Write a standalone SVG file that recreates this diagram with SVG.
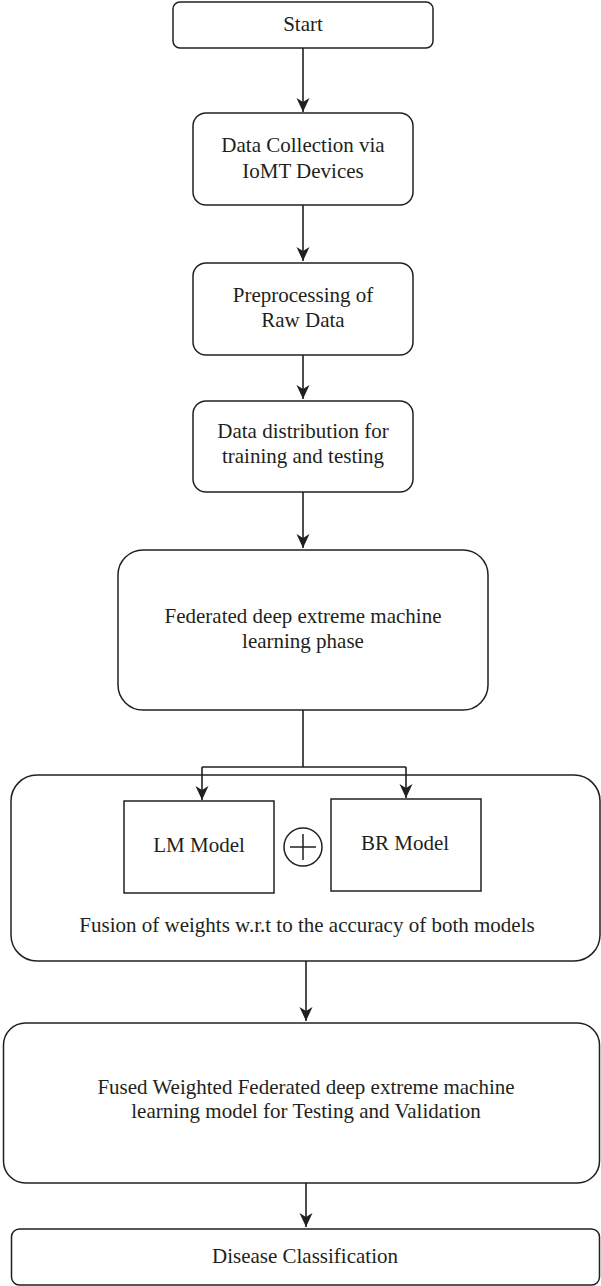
<svg xmlns="http://www.w3.org/2000/svg" width="601" height="1286" viewBox="0 0 601 1286">
<defs>
<style>
.box{fill:#fff;stroke:#231f20;stroke-width:1.5}
.t{font-family:"Liberation Serif","Times New Roman",serif;font-size:21px;fill:#231f20;text-anchor:middle}
.c{fill:none;stroke:#231f20;stroke-width:1.6}
</style>
<marker id="arr" markerUnits="userSpaceOnUse" markerWidth="16" markerHeight="16" viewBox="-15 -8 16 16" refX="0" refY="0" orient="auto">
<path d="M0,0 L-14,-6.5 L-10,0 L-14,6.5 Z" fill="#231f20"/>
</marker>
</defs>
<rect width="601" height="1286" fill="#fff"/>
<g id="start">
<rect class="box" x="173" y="2" width="260" height="46" rx="7"/>
<text class="t" x="303" y="31">Start</text>
</g>
<g id="collection">
<rect class="box" x="193" y="113" width="220" height="92" rx="13"/>
<text class="t" x="303" y="152">Data Collection via</text>
<text class="t" x="303" y="178">IoMT Devices</text>
</g>
<g id="preprocessing">
<rect class="box" x="193" y="263" width="220" height="92" rx="13"/>
<text class="t" x="303" y="302">Preprocessing of</text>
<text class="t" x="303" y="327">Raw Data</text>
</g>
<g id="distribution">
<rect class="box" x="193" y="401" width="220" height="91" rx="13"/>
<text class="t" x="303" y="438">Data distribution for</text>
<text class="t" x="303" y="463">training and testing</text>
</g>
<g id="federated">
<rect class="box" x="118" y="550" width="370" height="160" rx="25"/>
<text class="t" x="303" y="623">Federated deep extreme machine</text>
<text class="t" x="303" y="648">learning phase</text>
</g>
<g id="fusion">
<rect class="box" x="11" y="775" width="589" height="186" rx="26"/>
<text class="t" x="307" y="932">Fusion of weights w.r.t to the accuracy of both models</text>
</g>
<g id="lm">
<rect class="box" x="124" y="801" width="150" height="92"/>
<text class="t" x="199" y="852">LM Model</text>
</g>
<g id="plus">
<circle cx="303" cy="847" r="19" fill="#fff" stroke="#231f20" stroke-width="1.5"/>
<line x1="290" y1="847" x2="316" y2="847" stroke="#231f20" stroke-width="1.5"/>
<line x1="303" y1="834" x2="303" y2="860" stroke="#231f20" stroke-width="1.5"/>
</g>
<g id="br">
<rect class="box" x="331" y="799" width="150" height="92"/>
<text class="t" x="405" y="850">BR Model</text>
</g>
<g id="fused">
<rect class="box" x="3.5" y="1023" width="596" height="160" rx="22"/>
<text class="t" x="306" y="1094">Fused Weighted Federated deep extreme machine</text>
<text class="t" x="306" y="1118">learning model for Testing and Validation</text>
</g>
<g id="disease">
<rect class="box" x="11.5" y="1229" width="588" height="56" rx="8"/>
<text class="t" x="305" y="1263">Disease Classification</text>
</g>
<g id="connectors">
<line class="c" x1="303" y1="48" x2="303" y2="112" marker-end="url(#arr)"/>
<line class="c" x1="303" y1="205" x2="303" y2="261" marker-end="url(#arr)"/>
<line class="c" x1="303" y1="355" x2="303" y2="399" marker-end="url(#arr)"/>
<line class="c" x1="303" y1="492" x2="303" y2="548" marker-end="url(#arr)"/>
<polyline class="c" points="303,710 303,767"/>
<polyline class="c" points="202,767 406,767"/>
<line class="c" x1="202" y1="767" x2="202" y2="800" marker-end="url(#arr)"/>
<line class="c" x1="406" y1="767" x2="406" y2="798" marker-end="url(#arr)"/>
<line class="c" x1="306" y1="961" x2="306" y2="1021" marker-end="url(#arr)"/>
<line class="c" x1="306" y1="1183" x2="306" y2="1227" marker-end="url(#arr)"/>
</g>
</svg>
